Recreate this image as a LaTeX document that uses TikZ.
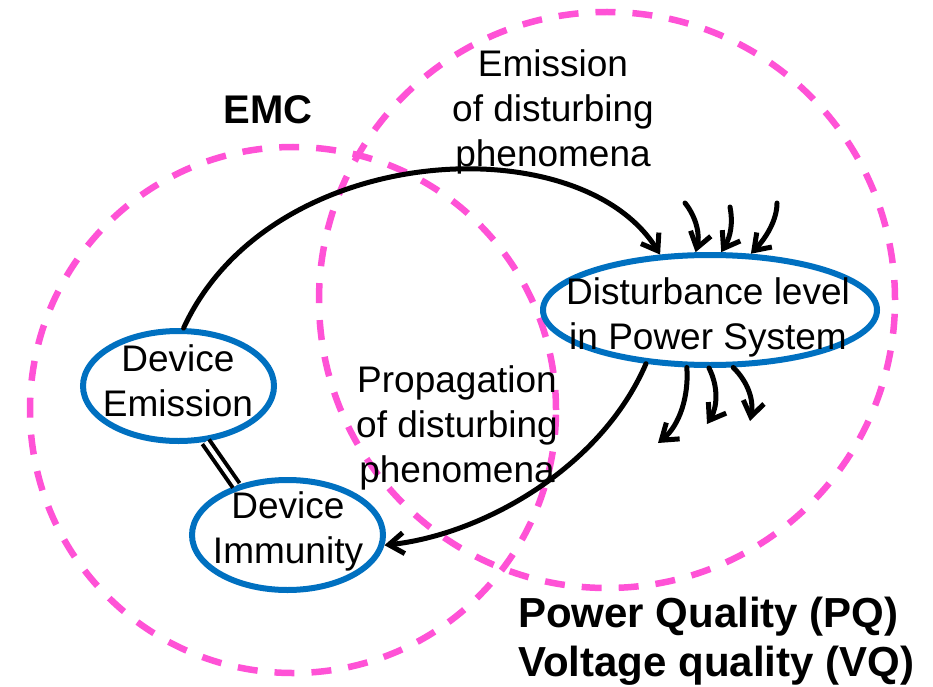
\documentclass[tikz,border=0pt]{standalone}
\usepackage{fontspec}
\setmainfont{Liberation Sans}
\usetikzlibrary{arrows.meta,shapes.geometric}
\definecolor{zonepink}{RGB}{255,82,214}
\definecolor{nodeblue}{RGB}{0,112,192}

\begin{document}
\begin{tikzpicture}[x=1pt,y=-1pt,
  zone/.style={draw=zonepink, line width=6.5pt, dash pattern=on 20pt off 17pt},
  blob/.style={ellipse, draw=nodeblue, line width=6pt, minimum width=191pt,
    minimum height=110pt, inner sep=0pt},
  lbl/.style={font=\fontsize{37}{45}\selectfont, align=center, inner sep=0pt},
  heading/.style={font=\fontsize{40}{48}\selectfont\bfseries, inner sep=0pt},
  bighead/.style={font=\fontsize{42}{49}\selectfont\bfseries, align=left, inner sep=0pt},
  flow/.style={line width=5pt, line cap=round,
    -{Straight Barb[length=15pt,width=21pt]}},
  link/.style={line width=4pt, double=white, double distance=4pt},
]
\useasboundingbox (0,0) rectangle (933,687);

% the two overlapping domains
\draw[zone] (293,410) circle[radius=263pt];
\draw[zone] (607,300) circle[radius=288pt];

% ellipses
\node[blob] (emis) at (178.5,386) {};
\node[blob] (imm) at (287.5,535) {};
\node[blob, minimum width=334pt] (dist) at (710,310) {};

% device emission -> disturbance level
\draw[flow] (emis.85) .. controls (270,140) and (580,125) .. (dist.132);
% disturbance level -> device immunity
\draw[flow] (dist.-140) .. controls (600,470) and (480,535) .. (imm.-6);
% emission and immunity are coupled
\draw[link] (emis.-64) -- (imm.136);

% other sources feeding the system
\coordinate (ina) at (685,203);
\coordinate (inb) at (730,207);
\coordinate (inc) at (777,203);
\draw[flow] (ina) .. controls (697,218) and (700,236) .. (dist.104);
\draw[flow] (inb) .. controls (733,222) and (731,236) .. (dist.79);
\draw[flow] (inc) .. controls (777,220) and (766,238) .. (dist.54);

% other loads affected by the system
\coordinate (outa) at (658,443);
\coordinate (outb) at (707,424);
\coordinate (outc) at (750,421);
\draw[flow] (dist.-112) .. controls (689,395) and (680,425) .. (outa);
\draw[flow] (dist.-91) .. controls (719,388) and (717,408) .. (outb);
\draw[flow] (dist.-68) .. controls (748,382) and (754,400) .. (outc);

% texts
\node[lbl] (emistext) at (178,380.3) {Device\\Emission};
\node[lbl] (immtext) at (288,531.2) {Device\\Immunity};
\node[lbl] (disttext) at (708,317.2) {Disturbance level\\in Power System};
\node[lbl] (emisflow) at (553,111.7) {Emission\\of disturbing\\phenomena};
\node[lbl] (propflow) at (457,427.6) {Propagation\\of disturbing\\phenomena};
\node[heading, anchor=base] (emc) at (268,124) {EMC};
\node[bighead, anchor=west] (pq) at (518,640.9) {Power Quality (PQ)\\Voltage quality (VQ)};
\end{tikzpicture}
\end{document}
